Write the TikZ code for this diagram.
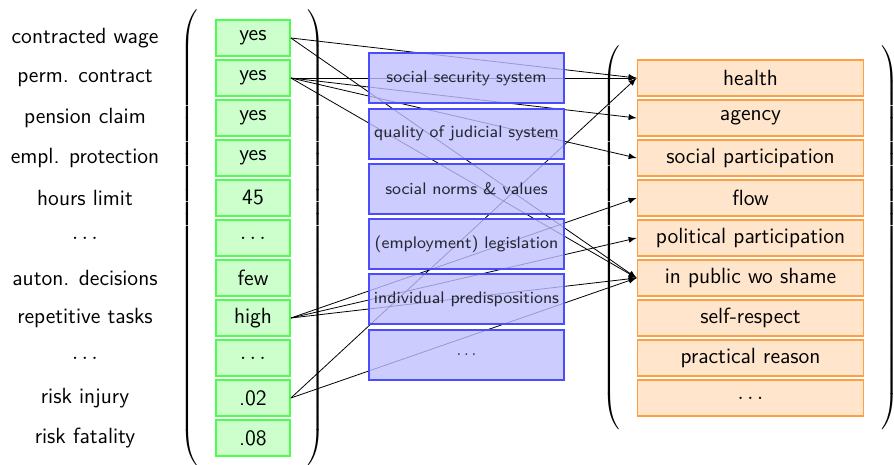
\documentclass[tikz,border=0pt]{standalone}
\usepackage{fontspec}
\usetikzlibrary{fit,matrix}

\tikzset{
  every node/.style={font=\fontsize{11}{13}\selectfont\sffamily},
  valbox/.style={draw=green!70, fill=green!20, line width=0.9pt,
    minimum width=37pt, minimum height=17.7pt, inner sep=0pt},
  instbox/.style={draw=blue!70, fill=blue!25, fill opacity=0.8, line width=1pt,
    minimum width=97.5pt, minimum height=25pt, inner sep=0pt,
    font=\fontsize{8.4}{10}\selectfont\sffamily},
  capbox/.style={draw=orange!75, fill=orange!20, line width=0.9pt,
    minimum width=113pt, minimum height=17.7pt, inner sep=0pt},
  parens/.style={inner ysep=#1, inner xsep=7pt,
    left delimiter=(, right delimiter=)},
  link/.style={-latex}
}

\begin{document}
\begin{tikzpicture}[x=0.5pt, y=-0.5pt]
    \useasboundingbox (0,0) rectangle (894,465);

    % --- Job attributes (left) and their values ---
    \foreach \lab/\val [count=\i] in {contracted wage/yes, perm. contract/yes,
        pension claim/yes, empl. protection/yes, hours limit/45, $\ldots$/$\ldots$,
        auton. decisions/few, repetitive tasks/high, $\ldots$/$\ldots$,
        risk injury/.02, risk fatality/.08}
    {
        \node (L\i) at (85, 40*\i-2) {\lab};
        \node[valbox] (V\i) at (253, 40*\i-2) {\val};
    }

    % --- Capabilities (right) ---
    \foreach \capname [count=\k] in {health, agency, social participation, flow,
        political participation, in public wo shame, self-respect,
        practical reason, $\ldots$}
        \node[capbox] (C\k) at (750.5, 40*\k+38) {\capname};

    % --- Round brackets around both columns ---
    \node[fit=(V1)(V11), parens=5pt] (Vcol) {};
    \node[fit=(C1)(C9), parens=7.5pt] (Ccol) {};

    % --- Links from attribute values to capabilities ---
    \foreach \from/\to in {1/1, 1/6, 2/1, 2/2, 2/3, 2/6, 8/4, 8/5, 8/6, 10/1, 10/6}
        \draw[link] (V\from.east) -- (C\to.west);

    % --- Conversion factors, drawn on top (see-through) ---
    \foreach \inst [count=\j] in {social security system, quality of judicial system,
        social norms \& values, {(employment) legislation},
        individual predispositions, $\ldots$}
        \node[instbox] (S\j) at (466.5, 55.2*\j+23.3) {\inst};

\end{tikzpicture}
\end{document}
